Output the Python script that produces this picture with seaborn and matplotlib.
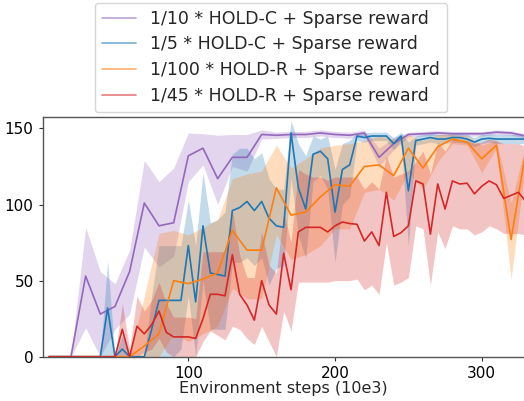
import numpy as np
import pandas as pd
import seaborn as sns
import matplotlib
matplotlib.use('Agg')
import matplotlib.pyplot as plt

# x grids: two runs logged every 10 steps, two every 5 steps
x10 = [5] + list(range(10, 340, 10))
x5 = list(range(5, 335, 5))

# 1/10 * HOLD-C (purple), logged every 10
hc10_mean = [0, 0, 0, 53, 28, 33, 56, 101, 86, 88, 132, 137, 117, 131, 131, 146, 145.5,
             146, 146, 147, 146, 145.5, 147, 131, 140, 146, 146.5, 147, 146.5, 146.5, 146.5,
             147.5, 147, 145]
hc10_lo = [0, 0, 0, 19, 0, 18, 28, 72, 59, 66, 115, 126, 100, 125, 122, 143, 143.5,
           144, 144, 145, 144, 143.5, 145, 125, 136, 144.5, 145, 145.5, 145, 145, 145,
           146, 145.5, 143.5]
hc10_hi = [0, 0, 0, 85, 56, 48, 70, 129, 115, 124, 147, 146.5, 145.5, 146, 146, 149, 147.5,
           148, 148, 149, 148, 147.5, 149, 137, 144, 147.5, 148, 148.5, 148, 148, 148,
           149, 148.5, 146.5]

# 1/5 * HOLD-C (blue), logged every 5
hc5_mean = [0, 0, 0, 0, 0, 0, 0, 0, 32, 0, 5, 0, 0, 0, 18, 37, 37, 37, 37, 73, 36, 86,
            55, 54, 53, 96, 98, 102, 96, 102, 91, 86, 85, 147, 111, 97, 133, 135, 130, 95,
            123, 126, 145, 144, 145, 145, 145, 140, 145, 109, 142, 143, 144, 143, 143, 144,
            144, 143, 141, 143, 143.5, 143, 143, 143, 143, 143]
hc5_lo = [0, 0, 0, 0, 0, 0, 0, 0, 0, 0, 0, 0, 0, 0, 0, 0, 0, 0, 5, 40, 0, 50,
          18, 18, 18, 62, 62, 65, 60, 65, 47, 58, 60, 117, 80, 65, 115, 119, 110, 62,
          100, 105, 142, 141, 142, 142, 142, 136, 142, 72, 139, 140, 141, 140, 140, 141,
          141, 140, 138, 140, 141, 140, 140, 140, 140, 140]
hc5_hi = [0, 0, 0, 0, 0, 0, 0, 0, 63, 0, 14, 0, 0, 0, 40, 73, 73, 73, 73, 103, 73, 121,
          88, 90, 95, 133, 137, 137, 130, 134, 117, 110, 110, 155, 140, 132, 145, 143, 145, 123,
          140, 142, 147, 147, 147.5, 147.5, 147.5, 144, 147.5, 141, 145, 146, 147, 146, 146, 147,
          147, 146, 144, 146, 146.5, 146, 146, 146, 146, 146]

# 1/100 * HOLD-R (orange), logged every 10
hr100_mean = [0, 0, 0, 0, 0, 0, 0, 7, 15, 50, 48, 51, 55, 83, 70, 70, 111, 93, 95, 105,
              113, 112, 125, 126, 119, 137, 124, 138, 143, 141, 130, 139, 77, 135]
hr100_lo = [0, 0, 0, 0, 0, 0, 0, 0, 0, 15, 10, 15, 20, 45, 38, 38, 80, 64, 67, 73,
            84, 84, 108, 110, 103, 121, 110, 128, 140, 139, 121, 137, 51, 128]
hr100_hi = [0, 0, 0, 0, 0, 0, 0, 40, 81, 83, 80, 85, 90, 117, 120, 122, 139, 124, 130, 137,
            139, 140, 142, 145, 143, 146, 142, 146, 146, 145, 139, 142, 101, 140]

# 1/45 * HOLD-R (red), logged every 5
hr45_mean = [0, 0, 0, 0, 0, 0, 0, 0, 0, 0, 18, 0, 20, 15, 21, 30, 16, 13, 13, 13, 12, 25,
             41, 41, 40, 67, 41, 34, 24, 50, 34, 28, 68, 44, 82, 85, 85, 85, 82, 86,
             88.5, 87.5, 87, 76, 82, 73, 108, 79, 81.5, 86, 115.5, 113.5, 80.5, 113.5, 97, 115.5,
             113.5, 114, 107, 112, 115.5, 113, 104, 106, 108, 102]
hr45_lo = [0, 0, 0, 0, 0, 0, 0, 0, 0, 0, 0, 0, 0, 3, 5, 12, 3, 0, 0, 0, 0, 10,
           17, 14, 11, 20, 18, 12, 8, 20, 10, 0, 30, 17, 49, 49, 49, 49, 49, 50,
           50, 50, 51, 44, 47, 41, 75, 47, 49, 52, 86, 84, 47, 82, 71, 86,
           84, 84, 80, 82, 86, 84, 81, 81, 81, 80]
hr45_hi = [0, 0, 0, 0, 0, 0, 0, 0, 0, 0, 35, 5, 40, 30, 37, 49, 35, 26, 26, 26, 25, 69,
           69, 69, 69, 96, 67, 52, 52, 82, 60, 55, 95, 75, 123, 120, 118, 118, 116, 118,
           118, 118, 118, 110, 115, 110, 132, 118, 120, 122, 128, 135, 120, 141, 135, 143,
           142, 142, 140, 141, 143, 142, 140, 140, 140, 138]

labels = ['1/10 * HOLD-C + Sparse reward', '1/5 * HOLD-C + Sparse reward',
          '1/100 * HOLD-R + Sparse reward', '1/45 * HOLD-R + Sparse reward']
colors = ['#9467bd', '#1f77b4', '#ff7f0e', '#d62728']

runs = [(x10, hc10_mean, hc10_lo, hc10_hi),
        (x5, hc5_mean, hc5_lo, hc5_hi),
        (x10, hr100_mean, hr100_lo, hr100_hi),
        (x5, hr45_mean, hr45_lo, hr45_hi)]

sns.set_style('white')
fig = plt.figure(figsize=(5.24, 4.01), dpi=100)
ax = fig.add_axes([0.0815, 0.1105, 0.9185, 0.5985])

for (xs, m, lo, hi), lab, col in zip(runs, labels, colors):
    df = pd.DataFrame({'step': xs, 'reward': m})
    sns.lineplot(data=df, x='step', y='reward', color=col, label=lab, lw=1.2, ax=ax)
    ax.fill_between(xs, lo, hi, color=col, alpha=0.27, lw=0)

ax.set_xlim(0.75, 328.8)
ax.set_ylim(0, 157.7)
ax.set_xticks([100, 200, 300])
ax.set_yticks([0, 50, 100, 150])
ax.tick_params(labelsize=11, length=3, width=0.8, colors='#333333', labelcolor='black',
               bottom=True, left=True)
ax.set_xlabel('Environment steps (10e3)', fontsize=11.5, labelpad=0)
ax.set_ylabel('')
ax.spines['right'].set_visible(False)
for s in ['left', 'bottom', 'top']:
    ax.spines[s].set_color('#555555')
    ax.spines[s].set_linewidth(1.0)

leg = ax.legend(loc='lower center', bbox_to_anchor=(271 / 524, 1 - 112 / 401),
                bbox_transform=fig.transFigure, fontsize=12.5, frameon=True,
                handlelength=2.0, borderpad=0.4, labelspacing=0.45, borderaxespad=0)
for line in leg.get_lines():
    line.set_alpha(0.6)

fig.savefig('out.png', dpi=100)
